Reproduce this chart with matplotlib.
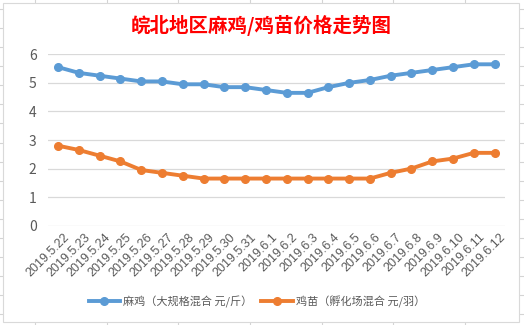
import matplotlib
matplotlib.use("Agg")
import matplotlib.pyplot as plt
from matplotlib.lines import Line2D
from matplotlib.patches import Rectangle
from matplotlib.transforms import ScaledTranslation
import numpy as np

plt.rcParams['font.family'] = ['Noto Sans CJK SC', 'DejaVu Sans']

# data
dates = ['2019.5.22', '2019.5.23', '2019.5.24', '2019.5.25', '2019.5.26', '2019.5.27',
         '2019.5.28', '2019.5.29', '2019.5.30', '2019.5.31', '2019.6.1', '2019.6.2',
         '2019.6.3', '2019.6.4', '2019.6.5', '2019.6.6', '2019.6.7', '2019.6.8',
         '2019.6.9', '2019.6.10', '2019.6.11', '2019.6.12']
mj = [5.55, 5.35, 5.25, 5.15, 5.05, 5.05, 4.95, 4.95, 4.85, 4.85, 4.75,
      4.65, 4.65, 4.85, 5.0, 5.1, 5.25, 5.35, 5.45, 5.55, 5.65, 5.65]
jm = [2.8, 2.65, 2.45, 2.25, 1.95, 1.85, 1.75, 1.65, 1.65, 1.65, 1.65,
      1.65, 1.65, 1.65, 1.65, 1.65, 1.85, 2.0, 2.25, 2.35, 2.55, 2.55]
mj_label = '麻鸡（大规格混合 元/斤）'
jm_label = '鸡苗（孵化场混合 元/羽）'
title = '皖北地区麻鸡/鸡苗价格走势图'

W, H = 524, 325
fig = plt.figure(figsize=(W / 100, H / 100), dpi=100)

def fx(px):
    return px / W

def fy(py):
    return 1 - py / H

# excel sheet grid behind the chart
grid_c = '#d4d4d4'
for x in [35, 106.7, 178.3, 250, 321.7, 393.3, 465]:
    fig.add_artist(Line2D([fx(x), fx(x)], [0, 1], color=grid_c, lw=0.8, zorder=-3))
for k in range(18):
    y = 9 + 19.08 * k
    fig.add_artist(Line2D([0, 1], [fy(y), fy(y)], color=grid_c, lw=0.8, zorder=-3))

# chart area
fig.add_artist(Rectangle((fx(3), fy(322)), fx(519) - fx(3), fy(3) - fy(322),
                         facecolor='white', edgecolor='#d9d9d9', lw=0.8, zorder=-2))

ax = fig.add_axes([fx(47.7), fy(225.7), fx(505) - fx(47.7), fy(54.3) - fy(225.7)])
ax.set_facecolor('none')

x = np.arange(len(dates))
ax.plot(x, mj, color='#5B9BD5', lw=2.8, marker='o', markersize=5.5, label=mj_label)
ax.plot(x, jm, color='#ED7D31', lw=2.8, marker='o', markersize=5.5, label=jm_label)

ax.set_xlim(-0.5, len(dates) - 0.5)
ax.set_ylim(0, 6)
ax.set_yticks(range(0, 7))
ax.grid(axis='y', color='#d9d9d9', lw=0.9)
ax.set_axisbelow(True)
for s in ax.spines.values():
    s.set_visible(False)
ax.tick_params(axis='both', length=0, colors='#595959')
ax.tick_params(axis='y', pad=8, labelsize=10)
ax.set_xticks(x)
ax.set_xticklabels(dates, rotation=45, ha='right', va='top', rotation_mode='anchor',
                   fontsize=9, family=['Liberation Sans'])
ax.tick_params(axis='x', pad=4)
shift = ScaledTranslation(5 / 100, 0, fig.dpi_scale_trans)
for lab in ax.get_xticklabels():
    lab.set_transform(lab.get_transform() + shift)

fig.text(fx(261), fy(25), title, color='#ff0000', fontsize=14, fontweight='bold',
         ha='center', va='center')

fig.legend(loc='center', bbox_to_anchor=(fx(257), fy(301.5)), ncol=2, frameon=False,
           fontsize=8, handlelength=2.8, columnspacing=0.8, handletextpad=0.3,
           labelcolor='#595959')

fig.savefig('out.png', dpi=100)
